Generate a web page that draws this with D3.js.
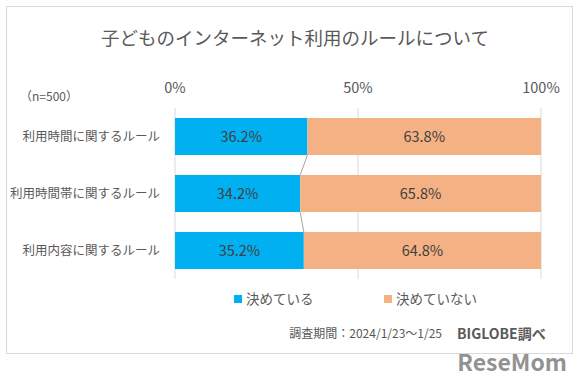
<!DOCTYPE html>
<html>
<head>
<meta charset="utf-8">
<script src="https://cdn.jsdelivr.net/npm/d3@7"></script>
<style>
  body { margin: 0; background: #fff; }
  text { font-family: "Noto Sans CJK JP", "Noto Sans", sans-serif; }
</style>
</head>
<body>
<div id="chart"></div>
<script>
const categories = ["利用時間に関するルール", "利用時間帯に関するルール", "利用内容に関するルール"];
const decided = [36.2, 34.2, 35.2];
const notDecided = [63.8, 65.8, 64.8];
const seriesNames = ["決めている", "決めていない"];
const tickValues = [0, 50, 100];

const width = 580, height = 379;
const colors = ["#00B0F0", "#F4B183"];

const svg = d3.select("#chart").append("svg")
  .attr("width", width)
  .attr("height", height);

// 外枠
svg.append("rect")
  .attr("x", 6.5).attr("y", 6.5)
  .attr("width", 566).attr("height", 347)
  .attr("fill", "#fff")
  .attr("stroke", "#d9d9d9");

svg.append("text")
  .attr("x", 295).attr("y", 45)
  .attr("text-anchor", "middle")
  .attr("font-size", "18.5px")
  .attr("fill", "#595959")
  .text("子どものインターネット利用のルールについて");

const x = d3.scaleLinear().domain([0, 100]).range([175, 541]);
const y = d3.scaleBand().domain(categories).range([108, 279]).paddingInner(0.35).paddingOuter(0.175);

// グリッド線
svg.selectAll("line.grid")
  .data(tickValues)
  .enter()
  .append("line")
  .attr("class", "grid")
  .attr("x1", d => x(d)).attr("x2", d => x(d))
  .attr("y1", 108).attr("y2", 279)
  .attr("stroke", "#d9d9d9");

svg.selectAll("text.tick")
  .data(tickValues)
  .enter()
  .append("text")
  .attr("class", "tick")
  .attr("x", d => x(d)).attr("y", 93)
  .attr("text-anchor", "middle")
  .attr("font-size", "14.5px")
  .attr("fill", "#595959")
  .text(d => d + "%");

svg.append("text")
  .attr("x", 20).attr("y", 101)
  .attr("font-size", "12px")
  .attr("fill", "#595959")
  .text("（n=500）");

const rows = categories.map((c, i) => ({ cat: c, a: decided[i], b: notDecided[i] }));

// 系列線
for (let i = 0; i < rows.length - 1; i++) {
  svg.append("line")
    .attr("x1", x(rows[i].a)).attr("y1", y(rows[i].cat) + y.bandwidth())
    .attr("x2", x(rows[i + 1].a)).attr("y2", y(rows[i + 1].cat))
    .attr("stroke", "#a6a6a6");
}

svg.selectAll("rect.a")
  .data(rows)
  .enter()
  .append("rect")
  .attr("x", x(0))
  .attr("y", d => y(d.cat))
  .attr("width", d => x(d.a) - x(0))
  .attr("height", y.bandwidth())
  .attr("fill", colors[0]);

svg.selectAll("rect.b")
  .data(rows)
  .enter()
  .append("rect")
  .attr("x", d => x(d.a))
  .attr("y", d => y(d.cat))
  .attr("width", d => x(d.a + d.b) - x(d.a))
  .attr("height", y.bandwidth())
  .attr("fill", colors[1]);

svg.selectAll("text.la")
  .data(rows)
  .enter()
  .append("text")
  .attr("x", d => x(d.a / 2))
  .attr("y", d => y(d.cat) + y.bandwidth() / 2 + 5)
  .attr("text-anchor", "middle")
  .attr("font-size", "14.5px")
  .attr("fill", "#404040")
  .text(d => d.a.toFixed(1) + "%");

svg.selectAll("text.lb")
  .data(rows)
  .enter()
  .append("text")
  .attr("x", d => x(d.a + d.b / 2))
  .attr("y", d => y(d.cat) + y.bandwidth() / 2 + 5)
  .attr("text-anchor", "middle")
  .attr("font-size", "14.5px")
  .attr("fill", "#404040")
  .text(d => d.b.toFixed(1) + "%");

svg.selectAll("text.cat")
  .data(rows)
  .enter()
  .append("text")
  .attr("x", 160)
  .attr("y", d => y(d.cat) + y.bandwidth() / 2 + 4)
  .attr("text-anchor", "end")
  .attr("font-size", "12.5px")
  .attr("fill", "#595959")
  .text(d => d.cat);

// 凡例
const legendX = [234, 384];
seriesNames.forEach((n, i) => {
  svg.append("rect")
    .attr("x", legendX[i]).attr("y", 295)
    .attr("width", 8).attr("height", 8)
    .attr("fill", colors[i]);
  svg.append("text")
    .attr("x", legendX[i] + 12).attr("y", 304)
    .attr("font-size", "13.5px")
    .attr("fill", "#595959")
    .text(n);
});

svg.append("text")
  .attr("x", 442).attr("y", 338)
  .attr("text-anchor", "end")
  .attr("font-size", "12px")
  .attr("fill", "#595959")
  .text("調査期間：2024/1/23～1/25");

svg.append("text")
  .attr("x", 457).attr("y", 339)
  .attr("font-size", "14px")
  .attr("font-weight", "bold")
  .attr("fill", "#595959")
  .text("BIGLOBE調べ");

svg.append("text")
  .attr("x", 567).attr("y", 371)
  .attr("text-anchor", "end")
  .attr("font-size", "23px")
  .attr("font-weight", "bold")
  .attr("fill", "#7f7f7f")
  .attr("opacity", 0.85)
  .text("ReseMom");
</script>
</body>
</html>
